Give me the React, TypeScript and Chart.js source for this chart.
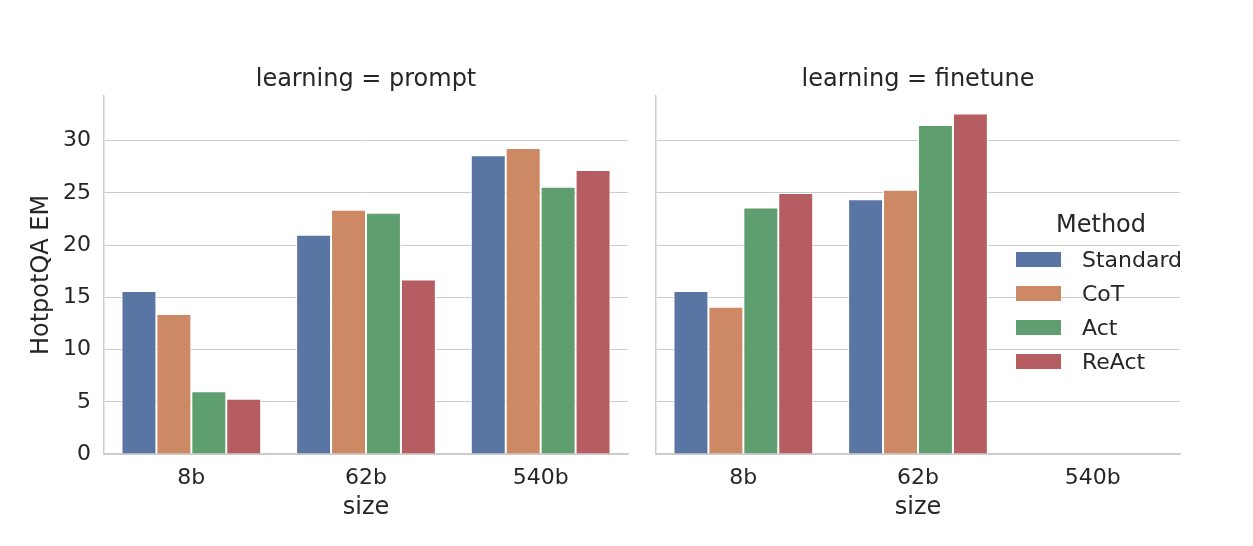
import { useEffect, useRef } from "react";
import { Chart, registerables } from "chart.js";

Chart.register(...registerables);

// ---- data ----
const sizes = ["8b", "62b", "540b"];
const methods = ["Standard", "CoT", "Act", "ReAct"];
const methodColors = ["#5975a4", "#cc8963", "#5f9e6e", "#b55d60"];

const promptStandard = [15.6, 21.0, 28.6];
const promptCoT = [13.4, 23.4, 29.3];
const promptAct = [6.0, 23.1, 25.6];
const promptReAct = [5.3, 16.7, 27.2];

const finetuneStandard = [15.6, 24.4, null];
const finetuneCoT = [14.1, 25.3, null];
const finetuneAct = [23.6, 31.5, null];
const finetuneReAct = [25.0, 32.6, null];

const yTicks = [0, 5, 10, 15, 20, 25, 30];
const yMax = 34.3;

const panelTitles = ["learning = prompt", "learning = finetune"];
const yTitle = "HotpotQA EM";
const xTitle = "size";
const legendTitle = "Method";

// ---- style ----
const W = 1253;
const H = 546;
const FONT = '"DejaVu Sans", sans-serif';
const TEXT = "#262626";
const GRID = "#cccccc";

const legendPlugin = {
  id: "methodLegend",
  afterDraw(chart: any, _args: any, opts: any) {
    if (!opts || !opts.show) return;
    const ctx = chart.ctx;
    ctx.save();
    ctx.fillStyle = TEXT;
    ctx.font = `24px ${FONT}`;
    ctx.textAlign = "center";
    ctx.textBaseline = "middle";
    ctx.fillText(legendTitle, 1101, 226);
    chart.data.datasets.forEach((ds: any, i: number) => {
      const y = 252 + i * 34;
      ctx.fillStyle = ds.backgroundColor;
      ctx.fillRect(1016, y, 45, 15);
      ctx.fillStyle = TEXT;
      ctx.font = `22px ${FONT}`;
      ctx.textAlign = "left";
      ctx.fillText(ds.label, 1082, y + 9);
    });
    ctx.restore();
  },
};

function makeConfig(
  title: string,
  series: (number | null)[][],
  left: boolean,
  padLeft: number,
  padRight: number
): any {
  return {
    type: "bar",
    data: {
      labels: sizes,
      datasets: methods.map((m, i) => ({
        label: m,
        data: series[i],
        backgroundColor: methodColors[i],
        borderColor: "#ffffff",
        borderWidth: 1,
        categoryPercentage: 0.8,
        barPercentage: 1.0,
      })),
    },
    plugins: [legendPlugin],
    options: {
      responsive: false,
      animation: false,
      devicePixelRatio: 1,
      layout: { padding: { left: padLeft, right: padRight, top: 0, bottom: 0 } },
      plugins: {
        legend: { display: false },
        tooltip: { enabled: false },
        title: {
          display: true,
          text: title,
          color: TEXT,
          fullSize: false,
          font: { family: FONT, size: 24, weight: "normal" },
          padding: { top: 65, bottom: 2 },
        },
        methodLegend: { show: !left },
      },
      scales: {
        x: {
          type: "category",
          grid: { display: false, drawTicks: false },
          border: { display: true, color: GRID, width: 1.5 },
          ticks: { color: TEXT, font: { family: FONT, size: 22 }, padding: 11 },
          title: {
            display: true,
            text: xTitle,
            color: TEXT,
            font: { family: FONT, size: 24 },
            padding: { top: 0, bottom: 24 },
          },
          afterFit: (s: any) => {
            s.height = H - 454;
          },
        },
        y: {
          min: 0,
          max: yMax,
          grid: { color: GRID, lineWidth: 1, drawTicks: false },
          border: { display: true, color: GRID, width: 1.5 },
          ticks: {
            display: left,
            color: TEXT,
            font: { family: FONT, size: 22 },
            padding: 13,
            includeBounds: false,
          },
          afterBuildTicks: (s: any) => {
            s.ticks = yTicks.map((v) => ({ value: v }));
          },
          title: {
            display: left,
            text: yTitle,
            color: TEXT,
            font: { family: FONT, size: 24 },
            padding: { top: 27, bottom: 0 },
          },
          afterFit: (s: any) => {
            s.width = left ? 104 : 0;
          },
        },
      },
    },
  };
}

export default function App() {
  const leftRef = useRef<HTMLCanvasElement | null>(null);
  const rightRef = useRef<HTMLCanvasElement | null>(null);

  useEffect(() => {
    const c1 = new Chart(
      leftRef.current as HTMLCanvasElement,
      makeConfig(
        panelTitles[0],
        [promptStandard, promptCoT, promptAct, promptReAct],
        true,
        0,
        W - 628
      )
    );
    const c2 = new Chart(
      rightRef.current as HTMLCanvasElement,
      makeConfig(
        panelTitles[1],
        [finetuneStandard, finetuneCoT, finetuneAct, finetuneReAct],
        false,
        656,
        W - 1180
      )
    );
    return () => {
      c1.destroy();
      c2.destroy();
    };
  }, []);

  const canvasStyle: any = {
    position: "absolute",
    left: 0,
    top: 0,
    width: W,
    height: H,
  };

  return (
    <div
      style={{
        position: "absolute",
        left: 0,
        top: 0,
        width: W,
        height: H,
        background: "#ffffff",
      }}
    >
      <canvas ref={leftRef} width={W} height={H} style={canvasStyle} />
      <canvas ref={rightRef} width={W} height={H} style={canvasStyle} />
    </div>
  );
}
